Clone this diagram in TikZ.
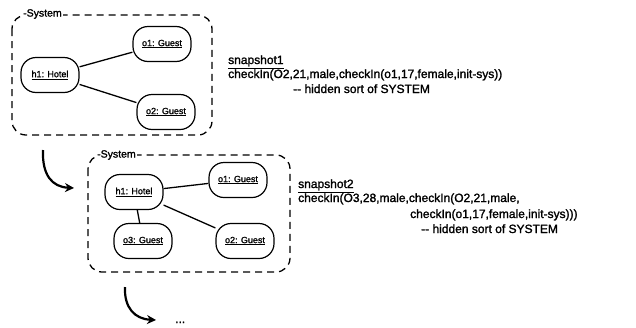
\documentclass[tikz,border=0pt]{standalone}
\usepackage{fontspec}
\setmainfont{Liberation Sans}[BoldFont={Liberation Sans}, BoldFeatures={FakeBold=1.5}]
\usetikzlibrary{arrows.meta}
\tikzset{
  sysbox/.style={draw, line width=1.3pt, dashed, dash pattern=on 7pt off 5pt, rounded corners=14pt},
  obj/.style={draw, line width=1.2pt, rounded corners=15pt, minimum width=58pt, minimum height=35pt, inner sep=1pt, font=\bfseries\fontsize{9}{10}\selectfont},
  syslabel/.style={fill=white, inner sep=1pt, font=\bfseries\fontsize{10.5}{12}\selectfont, anchor=west},
  link/.style={line width=1.3pt},
  txt/.style={anchor=base west, inner sep=0pt, font=\bfseries\fontsize{12}{14}\selectfont},
  flow/.style={line width=2.2pt, -{Stealth[length=9pt,width=9pt]}}
}
\begin{document}
\begin{tikzpicture}[x=1pt,y=-1pt]
\useasboundingbox (0,0) rectangle (636,327);
% snapshot 1
\draw[sysbox] (12,15) rectangle (212,135);
\node[syslabel] (sys1) at (22,14) {-System};
\node[obj] (h1a) at (50,75) {\underline{h1: Hotel}};
\node[obj] (o1a) at (162,44) {\underline{o1: Guest}};
\node[obj] (o2a) at (166,112) {\underline{o2: Guest}};
\draw[link] (h1a) -- (o1a);
\draw[link] (h1a) -- (o2a);
\node[txt] (s1) at (228,64) {\underline{snapshot1}};
\node[txt] (s1b) at (228,78) {checkIn(O2,21,male,checkIn(o1,17,female,init-sys))};
\node[txt] (s1c) at (293,93) {{-}{-} hidden sort of SYSTEM};
% arrow 1
\coordinate (a1s) at (43,150);
\coordinate (a1e) at (74,188);
\draw[flow] (a1s) .. controls (42,175) and (52,187) .. (a1e);
% snapshot 2
\draw[sysbox] (88,155) rectangle (290,272);
\node[syslabel] (sys2) at (96,155) {-System};
\node[obj] (h1b) at (134,192) {\underline{h1: Hotel}};
\node[obj] (o1b) at (238,180) {\underline{o1: Guest}};
\node[obj] (o3b) at (143,241) {\underline{o3: Guest}};
\node[obj] (o2b) at (245,241) {\underline{o2: Guest}};
\draw[link] (h1b) -- (o1b);
\draw[link] (h1b) -- (o2b);
\draw[link] (h1b) -- (o3b);
\node[txt] (s2) at (298,188) {\underline{snapshot2}};
\node[txt] (s2b) at (298,202) {checkIn(O3,28,male,checkIn(O2,21,male,};
\node[txt] (s2c) at (410,218) {checkIn(o1,17,female,init-sys)))};
\node[txt] (s2d) at (421,233) {{-}{-} hidden sort of SYSTEM};
% arrow 2
\coordinate (a2s) at (125,287);
\coordinate (a2e) at (156,320);
\draw[flow] (a2s) .. controls (124,308) and (135,319) .. (a2e);
\node[txt] (dots) at (175,323) {...};
\end{tikzpicture}
\end{document}
